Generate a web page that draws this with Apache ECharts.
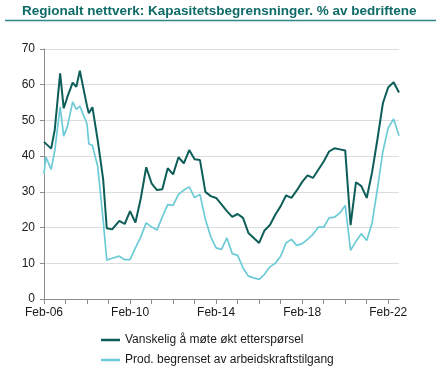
<!DOCTYPE html>
<html>
<head>
<meta charset="utf-8">
<script src="https://cdn.jsdelivr.net/npm/echarts@6/dist/echarts.min.js"></script>
<style>
html,body{margin:0;padding:0;background:#fff;}
#chart{width:440px;height:370px;}
</style>
</head>
<body>
<div id="chart"></div>
<script>
// Survey dates (month-year) and values, % of firms
const surveyDates = [
  'Feb-06','Mar-06','Jun-06','Aug-06','Nov-06','Jan-07','Mar-07','Jun-07','Aug-07','Oct-07',
  'Feb-08','Mar-08','May-08','Aug-08','Nov-08','Jan-09','Apr-09','Aug-09','Nov-09',
  'Feb-10','May-10','Aug-10','Nov-10','Feb-11','May-11','Aug-11','Nov-11',
  'Feb-12','May-12','Aug-12','Nov-12','Feb-13','May-13','Aug-13','Nov-13',
  'Feb-14','May-14','Aug-14','Nov-14','Feb-15','May-15','Aug-15','Nov-15',
  'Feb-16','May-16','Aug-16','Nov-16','Feb-17','May-17','Aug-17','Nov-17',
  'Feb-18','May-18','Aug-18','Nov-18','Feb-19','May-19','Aug-19','Nov-19',
  'Feb-20','May-20','Aug-20','Nov-20','Feb-21','May-21','Aug-21','Nov-21',
  'Feb-22','May-22','Aug-22'
];
const vanskeligEtterspørsel = [
  44.0,44.4,42.1,47.4,63.2,53.4,56.5,60.6,59.4,63.9,
  54.0,52.0,53.7,44.3,33.5,19.8,19.5,21.9,21.0,
  24.6,21.4,28.2,36.9,32.4,30.5,30.7,36.6,
  34.9,39.7,38.0,41.7,39.1,38.9,30.0,28.8,
  28.3,26.5,24.6,23.0,23.8,22.7,18.5,17.1,
  15.7,19.2,20.7,23.6,26.0,29.0,28.3,30.4,
  32.8,34.6,33.9,36.2,38.5,41.3,42.2,41.9,
  41.6,20.7,32.7,31.6,28.3,35.5,44.8,54.8,
  59.3,60.7,57.8
];
const arbeidskraftstilgang = [
  35.0,39.8,36.3,41.5,53.8,45.6,48.2,55.2,53.1,54.0,
  49.0,43.5,43.0,37.0,22.0,10.9,11.4,12.0,11.0,
  11.0,14.3,17.4,21.3,20.2,19.3,23.0,26.4,
  26.2,29.3,30.5,31.4,28.4,29.3,22.3,17.4,
  14.3,13.9,17.1,12.7,12.2,8.7,6.4,5.9,
  5.5,6.9,9.0,10.0,12.0,15.7,16.7,15.0,
  15.5,16.7,18.1,20.1,20.1,22.7,22.9,24.1,
  26.2,13.6,16.2,18.3,16.4,21.3,31.0,41.3,
  47.9,50.4,45.7
];
const seriesNames = ['Vanskelig å møte økt etterspørsel', 'Prod. begrenset av arbeidskraftstilgang'];
const titleText = 'Regionalt nettverk: Kapasitetsbegrensninger. % av bedriftene';
const yTicks = [0, 10, 20, 30, 40, 50, 60, 70];

// Monthly category axis from first to last survey month
const monthNames = ['Jan','Feb','Mar','Apr','May','Jun','Jul','Aug','Sep','Oct','Nov','Dec'];
function parseLabel(s){ const [mn, yy] = s.split('-'); return {m: monthNames.indexOf(mn), y: 2000 + parseInt(yy,10)}; }
const first = parseLabel(surveyDates[0]);
const last = parseLabel(surveyDates[surveyDates.length-1]);
const categories = [];
for (let y = first.y, m = first.m; y < last.y || (y === last.y && m <= last.m); ) {
  categories.push(monthNames[m] + '-' + String(y % 100).padStart(2, '0'));
  m++; if (m > 11) { m = 0; y++; }
}
const toData = vals => surveyDates.map((d, i) => [categories.indexOf(d), vals[i]]);

const FONT = '"Liberation Sans", Arial, sans-serif';
const chart = echarts.init(document.getElementById('chart'), null, {renderer: 'canvas'});
chart.setOption({
  animation: false,
  backgroundColor: '#ffffff',
  title: {
    text: titleText,
    left: 22, top: 4, padding: 0,
    textStyle: {fontFamily: FONT, fontSize: 13.5, fontWeight: 'bold', color: '#0f6b68'}
  },
  graphic: [{
    type: 'line', shape: {x1: 5, y1: 20.5, x2: 436, y2: 20.5},
    style: {stroke: '#2f8683', lineWidth: 1.5}
  }],
  grid: {left: 44, right: 41, top: 49, bottom: 71},
  legend: {
    orient: 'vertical', left: 101, top: 334, padding: 0, height: 40,
    icon: 'rect', itemWidth: 19, itemHeight: 2.5, itemGap: 8,
    textStyle: {fontFamily: FONT, fontSize: 12, color: '#1a1a1a'},
    data: seriesNames
  },
  xAxis: {
    type: 'category', data: categories, boundaryGap: false,
    axisLine: {lineStyle: {color: '#8c8c8c', width: 1}},
    axisTick: {show: true, interval: 11, length: 5, lineStyle: {color: '#8c8c8c'}},
    axisLabel: {interval: 47, margin: 8, fontFamily: FONT, fontSize: 12, color: '#1a1a1a'},
    splitLine: {show: false}
  },
  yAxis: {
    type: 'value', min: yTicks[0], max: yTicks[yTicks.length-1], interval: 10,
    axisLine: {show: true, lineStyle: {color: '#8c8c8c', width: 1}},
    axisTick: {show: true, length: 4, lineStyle: {color: '#8c8c8c'}},
    axisLabel: {margin: 9, fontFamily: FONT, fontSize: 12, color: '#1a1a1a'},
    splitLine: {lineStyle: {color: '#dcdcdc', width: 1}}
  },
  series: [
    {name: seriesNames[0], type: 'line', data: toData(vanskeligEtterspørsel), symbol: 'none',
     connectNulls: true, z: 3, color: '#0d5d58', lineStyle: {width: 2, color: '#0d5d58'}},
    {name: seriesNames[1], type: 'line', data: toData(arbeidskraftstilgang), symbol: 'none',
     connectNulls: true, z: 2, color: '#6ccbd6', lineStyle: {width: 1.7, color: '#6ccbd6'}}
  ]
});
</script>
</body>
</html>
